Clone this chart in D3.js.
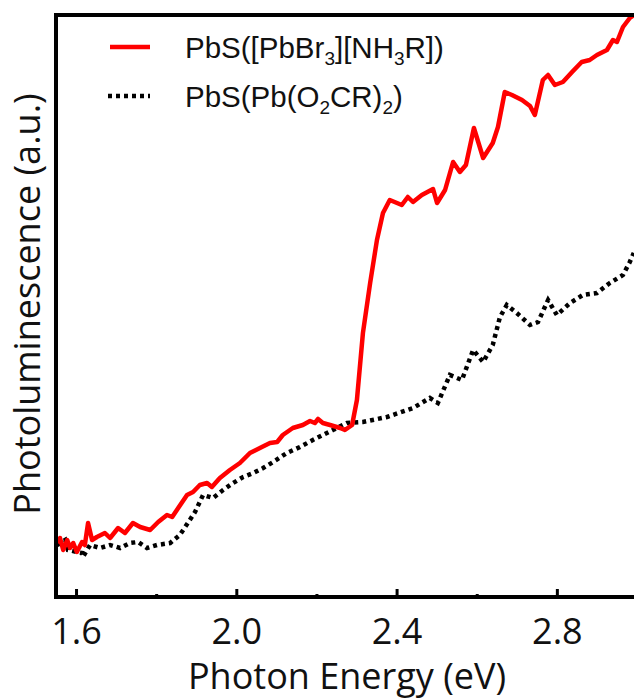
<!DOCTYPE html>
<html>
<head>
<meta charset="utf-8">
<script src="https://cdn.jsdelivr.net/npm/d3@7"></script>
<style>
  html, body { margin: 0; padding: 0; background: #fff; }
  svg { display: block; }
</style>
</head>
<body>
<svg id="chart" width="634" height="700"></svg>
<script>
// Photoluminescence excitation spectra (arbitrary units) vs photon energy
const redEnergy = [1.553,1.560,1.568,1.578,1.585,1.593,1.602,1.615,1.622,1.630,1.640,1.652,1.672,1.685,1.705,1.722,1.742,1.760,1.785,1.805,1.827,1.840,1.855,1.877,1.892,1.909,1.927,1.939,1.959,1.984,2.009,2.034,2.059,2.084,2.102,2.116,2.141,2.166,2.184,2.196,2.204,2.216,2.234,2.259,2.271,2.289,2.301,2.316,2.334,2.351,2.366,2.383,2.413,2.428,2.441,2.463,2.491,2.501,2.521,2.541,2.558,2.573,2.593,2.616,2.640,2.653,2.670,2.688,2.713,2.733,2.745,2.765,2.778,2.795,2.815,2.838,2.862,2.882,2.900,2.925,2.940,2.950,2.965,2.982,2.992];
const redPL = [55,60,48,58,50,55,46,56,53,75,58,61,65,60,70,65,75,71,68,76,83,81,90,103,106,113,115,111,120,128,135,145,150,155,156,163,170,173,177,175,179,175,173,170,168,173,198,265,315,358,385,398,393,401,396,403,409,395,408,436,426,433,470,440,455,471,506,503,498,492,483,518,523,513,516,526,536,538,543,548,558,556,571,580,583];

const blackEnergy = [1.553,1.573,1.580,1.602,1.615,1.617,1.635,1.660,1.685,1.710,1.735,1.755,1.777,1.802,1.835,1.859,1.879,1.897,1.917,1.942,1.967,1.992,2.017,2.042,2.067,2.092,2.126,2.159,2.191,2.216,2.241,2.276,2.316,2.376,2.441,2.483,2.503,2.533,2.563,2.591,2.616,2.640,2.658,2.675,2.700,2.733,2.753,2.778,2.800,2.833,2.865,2.900,2.932,2.965,2.982,2.992];
const blackPL = [53,58,48,46,45,41,53,50,53,50,55,56,50,53,55,63,75,86,103,100,108,115,121,125,130,136,145,151,158,163,168,175,176,181,190,200,195,223,218,248,236,253,281,293,285,273,276,298,283,295,303,305,315,323,336,345];

const majorTicks = [1.6, 2.0, 2.4, 2.8];
const minorTicks = [1.8, 2.2, 2.6, 3.0];

const svg = d3.select("#chart");
const plotLeft = 56, plotRight = 637, plotTop = 15, plotBottom = 597;
const labelFont = "'Open Sans', sans-serif";

const x = d3.scaleLinear().domain([1.55, 3.0]).range([plotLeft, plotRight]);
const y = d3.scaleLinear().domain([0, 583]).range([plotBottom + 1, plotTop]);

svg.append("defs").append("clipPath").attr("id", "plotClip")
  .append("rect").attr("x", plotLeft).attr("y", plotTop)
  .attr("width", plotRight - plotLeft).attr("height", plotBottom - plotTop);

const line = d3.line().x(d => x(d[0])).y(d => y(d[1])).curve(d3.curveLinear);

const plot = svg.append("g").attr("clip-path", "url(#plotClip)");

plot.append("path")
  .datum(blackEnergy.map((e, i) => [e, blackPL[i]]))
  .attr("d", line)
  .attr("fill", "none")
  .attr("stroke", "#000")
  .attr("stroke-width", 4.5)
  .attr("stroke-dasharray", "4,4");

plot.append("path")
  .datum(redEnergy.map((e, i) => [e, redPL[i]]))
  .attr("d", line)
  .attr("fill", "none")
  .attr("stroke", "#ff0000")
  .attr("stroke-width", 4.5)
  .attr("stroke-linejoin", "round");

// Frame: left and top borders
svg.append("line").attr("x1", plotLeft).attr("x2", plotLeft).attr("y1", plotTop - 2).attr("y2", plotBottom + 2)
  .attr("stroke", "#000").attr("stroke-width", 4);
svg.append("line").attr("x1", plotLeft - 2).attr("x2", plotRight + 2).attr("y1", plotTop).attr("y2", plotTop)
  .attr("stroke", "#000").attr("stroke-width", 4);

// Bottom axis with inward ticks
const xAxis = d3.axisBottom(x).tickValues(majorTicks).tickFormat(d3.format(".1f"))
  .tickSizeInner(-8).tickSizeOuter(0).tickPadding(21);
const gx = svg.append("g").attr("transform", `translate(0,${plotBottom})`).call(xAxis);
gx.select(".domain").attr("stroke", "#000").attr("stroke-width", 4).attr("d", `M${plotLeft - 2},0H${plotRight + 2}`);
gx.selectAll(".tick line").attr("stroke", "#000").attr("stroke-width", 3);
gx.selectAll(".tick text")
  .attr("font-family", labelFont)
  .attr("font-size", 36)
  .attr("fill", "#111");

const xMinor = d3.axisBottom(x).tickValues(minorTicks).tickFormat("").tickSizeInner(-3).tickSizeOuter(0);
const gm = svg.append("g").attr("transform", `translate(0,${plotBottom})`).call(xMinor);
gm.select(".domain").remove();
gm.selectAll(".tick line").attr("stroke", "#000").attr("stroke-width", 3);

// Axis titles
svg.append("text")
  .attr("x", 347).attr("y", 689)
  .attr("text-anchor", "middle")
  .attr("font-family", labelFont)
  .attr("font-size", 36)
  .attr("fill", "#111")
  .text("Photon Energy (eV)");

svg.append("text")
  .attr("transform", "translate(40,304) rotate(-90)")
  .attr("text-anchor", "middle")
  .attr("font-family", labelFont)
  .attr("font-size", 36)
  .attr("fill", "#111")
  .text("Photoluminescence (a.u.)");

// Legend
const legend = svg.append("g");
legend.append("line").attr("x1", 110).attr("x2", 150).attr("y1", 47).attr("y2", 47)
  .attr("stroke", "#ff0000").attr("stroke-width", 4.5);
legend.append("line").attr("x1", 108).attr("x2", 150).attr("y1", 96).attr("y2", 96)
  .attr("stroke", "#000").attr("stroke-width", 4.5).attr("stroke-dasharray", "4,4");

function addLabel(parts, yPos) {
  const t = legend.append("text")
    .attr("x", 185).attr("y", yPos)
    .attr("font-family", "'Liberation Sans', Arial, sans-serif")
    .attr("font-size", 29.5)
    .attr("fill", "#111");
  parts.forEach(p => {
    const ts = t.append("tspan").text(p.t);
    if (p.sub) ts.attr("font-size", 19).attr("dy", 7);
    if (p.after) ts.attr("dy", -7);
  });
}
addLabel([{t: "PbS([PbBr"}, {t: "3", sub: true}, {t: "][NH", after: true}, {t: "3", sub: true}, {t: "R])", after: true}], 58);
addLabel([{t: "PbS(Pb(O"}, {t: "2", sub: true}, {t: "CR)", after: true}, {t: "2", sub: true}, {t: ")", after: true}], 107);
</script>
</body>
</html>
